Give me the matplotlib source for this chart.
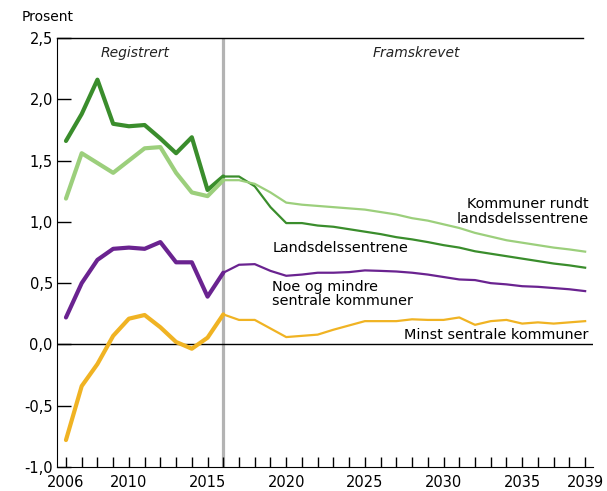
import matplotlib
matplotlib.use('Agg')
import matplotlib.pyplot as plt
import numpy as np

years = np.arange(2006, 2040)

# prosent befolkningsvekst per aar
landsdel = [1.66, 1.88, 2.16, 1.80, 1.78, 1.79, 1.68, 1.56, 1.69, 1.26, 1.37,
            1.37, 1.29, 1.12, 0.99, 0.99, 0.97, 0.96, 0.94, 0.92, 0.90, 0.875,
            0.857, 0.835, 0.81, 0.79, 0.76, 0.74, 0.72, 0.70, 0.68, 0.66, 0.645, 0.626]
rundt = [1.19, 1.56, 1.48, 1.40, 1.50, 1.60, 1.61, 1.40, 1.24, 1.21, 1.34,
         1.34, 1.31, 1.24, 1.157, 1.14, 1.13, 1.12, 1.11, 1.10, 1.08, 1.06,
         1.03, 1.01, 0.98, 0.95, 0.91, 0.88, 0.85, 0.83, 0.81, 0.79, 0.775, 0.757]
noe = [0.22, 0.50, 0.69, 0.78, 0.79, 0.78, 0.835, 0.67, 0.67, 0.39, 0.585,
       0.65, 0.655, 0.60, 0.56, 0.57, 0.585, 0.585, 0.59, 0.604, 0.60, 0.595,
       0.585, 0.57, 0.55, 0.53, 0.525, 0.50, 0.49, 0.475, 0.47, 0.46, 0.45, 0.435]
minst = [-0.78, -0.34, -0.16, 0.07, 0.21, 0.24, 0.14, 0.02, -0.035, 0.055, 0.245,
         0.20, 0.20, 0.13, 0.06, 0.07, 0.08, 0.12, 0.155, 0.19, 0.19, 0.19,
         0.205, 0.20, 0.20, 0.22, 0.16, 0.19, 0.20, 0.17, 0.18, 0.17, 0.18, 0.19]

label_years = [2006, 2010, 2015, 2020, 2025, 2030, 2035, 2039]
yticks = [-1.0, -0.5, 0.0, 0.5, 1.0, 1.5, 2.0, 2.5]

c_dark = '#3a8d2c'
c_light = '#9ccf7c'
c_purple = '#6a2390'
c_yellow = '#f0b323'

plt.rcParams['font.family'] = 'DejaVu Sans'

fig = plt.figure(figsize=(6.07, 4.91), dpi=100)
ax = fig.add_axes([57/607, 1-467/491, (593-57)/607, (467-38)/491])

ax.axvline(2016, color='#b3b3b3', linewidth=2.3, zorder=1)
ax.axhline(0, color='black', linewidth=1.0, zorder=2)

n = 11  # registrert til og med 2016
for vals, col in [(minst, c_yellow), (noe, c_purple), (landsdel, c_dark), (rundt, c_light)]:
    v = np.array(vals)
    ax.plot(years[:n], v[:n], color=col, linewidth=3.0, solid_joinstyle='round',
            solid_capstyle='round', zorder=3)
    ax.plot(years[n-1:], v[n-1:], color=col, linewidth=1.6, zorder=3)

ax.set_xlim(2005.43, 2039.5)
ax.set_ylim(-1.0, 2.5)

ax.spines['right'].set_visible(False)
ax.spines['top'].set_visible(False)
ax.plot([0, (583-57)/(593-57)], [1, 1], transform=ax.transAxes, color='black',
        linewidth=1.0, clip_on=False)

ax.set_yticks(yticks)
ax.set_yticklabels([('%.1f' % t).replace('.', ',') for t in yticks])
ax.set_xticks(years)
ax.set_xticklabels([str(y) if y in label_years else '' for y in years])
ax.tick_params(axis='y', direction='in', length=10, width=1, labelsize=10.5, pad=3)
ax.tick_params(axis='x', direction='in', length=7, width=1, labelsize=10.5, pad=6)

ax.text(2010.39, 2.38, 'Registrert', fontsize=10, style='italic', color='#222222',
        ha='center', va='center')
ax.text(2028.3, 2.38, 'Framskrevet', fontsize=10, style='italic', color='#222222',
        ha='center', va='center')

ax.text(2039.25, 1.086, 'Kommuner rundt\nlandsdelssentrene', fontsize=10.4, ha='right',
        va='center', linespacing=1.05)
ax.text(2019.16, 0.784, 'Landsdelssentrene', fontsize=10.4, ha='left', va='center')
ax.text(2019.1, 0.412, 'Noe og mindre\nsentrale kommuner', fontsize=10.4, ha='left',
        va='center', linespacing=1.05)
ax.text(2039.19, 0.076, 'Minst sentrale kommuner', fontsize=10.4, ha='right', va='center')

fig.text(22/607, 1-17/491, 'Prosent', fontsize=10, ha='left', va='center')

fig.savefig('out.png', dpi=100)
